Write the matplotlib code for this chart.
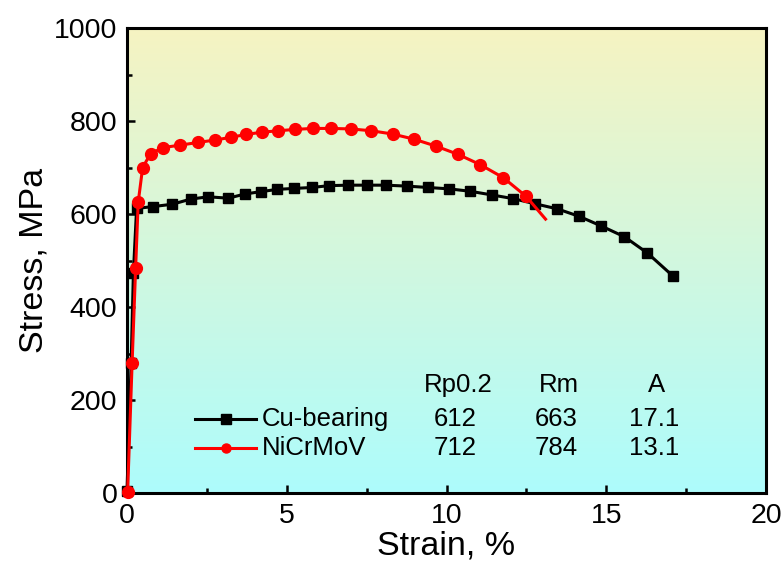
import numpy as np
import matplotlib
matplotlib.use("Agg")
import matplotlib.pyplot as plt
from matplotlib.colors import LinearSegmentedColormap
from matplotlib.ticker import MultipleLocator

plt.rcParams['font.family'] = ['Liberation Sans', 'DejaVu Sans']

cu_strain = [0.0, 0.13, 0.2, 0.3, 0.82, 1.42, 1.99, 2.54, 3.17, 3.69, 4.18, 4.71, 5.24, 5.78,
             6.33, 6.93, 7.5, 8.1, 8.75, 9.43, 10.09, 10.73, 11.42, 12.09, 12.77, 13.47,
             14.15, 14.85, 15.57, 16.29, 17.08]
cu_stress = [5, 280, 473, 612, 616, 621, 632, 637, 634, 643, 648, 653, 655, 657,
             661, 662, 662, 662, 660, 657, 654, 649, 641, 633, 622, 611,
             595, 574, 551, 516, 467]

ni_strain = [0.02, 0.16, 0.27, 0.35, 0.49, 0.74, 1.14, 1.66, 2.23, 2.75, 3.26, 3.72, 4.23,
             4.74, 5.27, 5.81, 6.38, 7.0, 7.65, 8.31, 8.98, 9.67, 10.37, 11.06, 11.78, 12.49]
ni_stress = [3, 280, 484, 625, 700, 730, 743, 748, 754, 759, 765, 771, 776,
             779, 782, 784, 784, 783, 779, 772, 761, 746, 728, 706, 678, 638]
ni_end_strain = [12.49, 13.1]
ni_end_stress = [638, 589]

table_cols = ['Rp0.2', 'Rm', 'A']
labels = ['Cu-bearing', 'NiCrMoV']
table_vals = [['612', '663', '17.1'], ['712', '784', '13.1']]

fig = plt.figure(figsize=(7.83, 5.72), dpi=100)
ax = fig.add_axes([127/783, 1-493/572, (766-127)/783, (493-28)/572])

cmap = LinearSegmentedColormap.from_list('bg', ['#ADFCFC', '#F6F3C2'])
grad = np.linspace(0, 1, 256).reshape(-1, 1)
ax.imshow(grad, cmap=cmap, aspect='auto', extent=[0, 1, 0, 1], origin='lower',
          transform=ax.transAxes, zorder=0)

l1, = ax.plot(cu_strain, cu_stress, color='black', lw=2.2, marker='s', ms=7.5, zorder=7,
              clip_on=False)
ax.plot(ni_end_strain, ni_end_stress, color='red', lw=2.2, zorder=8, clip_on=False)
l2, = ax.plot(ni_strain, ni_stress, color='red', lw=2.2, marker='o', ms=8.5, zorder=8,
              clip_on=False)

ax.set_xlim(0, 20)
ax.set_ylim(0, 1000)
ax.xaxis.set_major_locator(MultipleLocator(5))
ax.xaxis.set_minor_locator(MultipleLocator(2.5))
ax.yaxis.set_major_locator(MultipleLocator(200))
ax.yaxis.set_minor_locator(MultipleLocator(100))
ax.tick_params(which='both', direction='in', top=False, right=False, labelsize=20.5,
               width=1.8, pad=7)
ax.tick_params(which='major', length=6)
ax.tick_params(which='minor', length=3.5)
for s in ax.spines.values():
    s.set_linewidth(2.2)
    s.set_zorder(6)

ax.set_xlabel('Strain, %', fontsize=24.5, labelpad=1)
ax.set_ylabel('Stress, MPa', fontsize=24.5, labelpad=3)

def px(x, y):
    return ((x - 127) / (766 - 127), (493 - y) / (493 - 28))

# column headers
col_x = [458, 559, 657]
for name, cx in zip(table_cols, col_x):
    ax.text(*px(cx, 385), name, transform=ax.transAxes, ha='center', va='center', fontsize=18.5)

row_y = [419, 448]
colors = ['black', 'red']
markers = ['s', 'o']
for i, (lab, ry) in enumerate(zip(labels, row_y)):
    x0, y0 = px(195, ry)
    x1, _ = px(256, ry)
    ax.plot([x0, x1], [y0, y0], color=colors[i], lw=2.2, transform=ax.transAxes, zorder=5)
    ax.plot([(x0 + x1) / 2], [y0], color=colors[i], marker=markers[i], ms=6.5,
            transform=ax.transAxes, zorder=5)
    ax.text(*px(262, ry), lab, transform=ax.transAxes, ha='left', va='center', fontsize=18.5)
    for v, cx in zip(table_vals[i], col_x):
        ax.text(*px(cx - 3, ry), v, transform=ax.transAxes, ha='center', va='center', fontsize=18.5)

fig.savefig('out.png', dpi=100)
